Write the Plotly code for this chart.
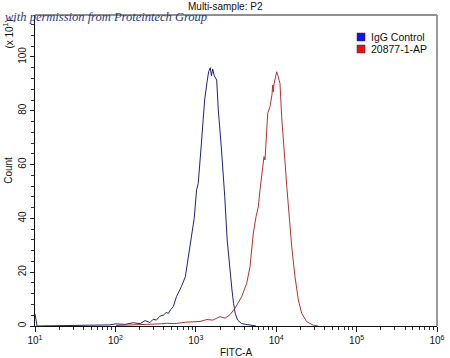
import plotly.graph_objects as go

# FITC-A intensity values and counts (in units of x10^1)
igg_fitc = [10, 10.6, 48, 65, 85, 100, 132, 166, 204, 234, 269, 295, 324, 355, 398, 427, 457, 490,
            525, 575, 617, 661, 741, 813, 891, 955, 1023, 1072, 1175, 1288, 1380, 1445, 1514,
            1567, 1622, 1698, 1820, 1905, 2089, 2239, 2291, 2455, 2692, 2818, 2951, 3090, 3311,
            3715, 4169, 5012, 5623]
igg_count = [4.5, 0, 0.3, 0.5, 0.4, 0.8, 0.6, 1.2, 0.9, 2.0, 1.3, 2.5, 2.2, 3.6, 4.1, 5.0, 4.7, 6.2,
             7.2, 10.9, 12.5, 14.6, 18.3, 25.8, 33, 40, 50.6, 53, 68, 84, 90.8, 94.5, 96,
             93, 95.5, 93, 91.4, 80.3, 65.4, 53, 48, 32, 18.3, 13.4, 8.4, 4.7, 2.2,
             0.9, 0.6, 0.3, 0]

ab_fitc = [102, 151, 234, 359, 437, 549, 741, 923, 1127, 1377, 1636, 2000, 2307, 2661, 3073, 3724,
           4297, 4722, 5190, 5610, 5989, 6291, 6659, 6918, 7052, 7258, 7467, 7838, 8369, 8865,
           9045, 9204, 9391, 9798, 10145, 10520, 11143, 11695, 12497, 13618, 15590, 17137,
           18843, 20760, 23947, 28901, 33113]
ab_count = [0.2, 0.3, 0.5, 0.8, 1.0, 0.9, 1.4, 1.6, 1.7, 2.4, 2.2, 3.5, 2.9, 4.2, 6.6, 10.9,
            15.9, 22, 34.5, 40.6, 44.3, 50.6, 56, 60.5, 63, 61.7, 68, 79, 81.5, 86,
            89.6, 87, 90, 93, 94.5, 93, 90.2, 77.8, 65.4, 51, 29.5, 18.3,
            9.7, 4.7, 1.6, 0.3, 0]

series_names = ["IgG Control", "20877-1-AP"]
line_colors = ["#22227a", "#b03434"]
legend_colors = ["#1414e6", "#e61414"]

x_tickvals = [10, 100, 1000, 10000, 100000, 1000000]
x_ticktext = ["10<sup>1</sup>", "10<sup>2</sup>", "10<sup>3</sup>", "10<sup>4</sup>",
              "10<sup>5</sup>", "10<sup>6</sup>"]
x_minor = [m * 10 ** e for e in range(1, 6) for m in range(2, 10)]
y_tickvals = [0, 20, 40, 60, 80, 100]
y_minor = list(range(0, 116, 4))

fig = go.Figure()
fig.add_trace(go.Scatter(x=igg_fitc, y=igg_count, mode="lines", name=series_names[0],
                         line=dict(color=line_colors[0], width=1), showlegend=False))
fig.add_trace(go.Scatter(x=ab_fitc, y=ab_count, mode="lines", name=series_names[1],
                         line=dict(color=line_colors[1], width=1), showlegend=False))

font = "Liberation Sans, Arial, sans-serif"

# legend drawn as swatches + labels in paper coordinates
shapes = [
    dict(type="line", xref="paper", yref="paper", x0=0, x1=1, y0=1, y1=1,
         line=dict(color="#222", width=1)),
    dict(type="line", xref="paper", yref="paper", x0=1, x1=1, y0=0, y1=1,
         line=dict(color="#999", width=2)),
]
annotations = [
    dict(text="Multi-sample: P2", xref="paper", yref="paper", x=0.475, y=1.0,
         xanchor="center", yanchor="bottom", yshift=1, showarrow=False,
         font=dict(size=10, family=font)),
    dict(text="(x 10<sup>1</sup>)", xref="paper", yref="paper", x=0, y=0.99,
         xanchor="center", yanchor="top", xshift=-27, textangle=-90, showarrow=False,
         font=dict(size=10, family=font)),
    dict(text="with permission from Proteintech Group", xref="paper", yref="paper",
         x=0, y=1.0, xanchor="left", yanchor="middle", xshift=-32, yshift=-2,
         showarrow=False,
         font=dict(size=12.5, family="Liberation Serif, serif", color="#2b3b78",
                   style="italic")),
]
plot_w, plot_h = 402, 311
for i, (name, c) in enumerate(zip(series_names, legend_colors)):
    top_px = 33 + i * 12 - 15  # from top of plot area
    x0 = (357 - 35) / plot_w
    x1 = (365 - 35) / plot_w
    y1 = 1 - top_px / plot_h
    y0 = 1 - (top_px + 8) / plot_h
    shapes.append(dict(type="rect", xref="paper", yref="paper", x0=x0, x1=x1, y0=y0, y1=y1,
                       fillcolor=c, line=dict(color="#333", width=0.5)))
    annotations.append(dict(text=name, xref="paper", yref="paper", x=(369 - 35) / plot_w,
                            y=(y0 + y1) / 2, xanchor="left", yanchor="middle",
                            showarrow=False, font=dict(size=10.5, family=font)))

fig.update_layout(
    width=450, height=358,
    margin=dict(l=35, r=13, t=15, b=32, autoexpand=False),
    paper_bgcolor="white", plot_bgcolor="white",
    font=dict(family=font, size=10, color="#111111"),
    showlegend=False,
    xaxis=dict(type="log", range=[1, 6], tickmode="array", tickvals=x_tickvals,
               ticktext=x_ticktext, ticks="outside", ticklen=5, tickcolor="#222",
               showline=True, linecolor="#111", linewidth=1, showgrid=False, zeroline=False,
               automargin=False,
               minor=dict(tickmode="array", tickvals=x_minor, ticks="outside", ticklen=3,
                          tickcolor="#333", showgrid=False),
               title=dict(text="FITC-A", standoff=4, font=dict(size=10)),
               tickfont=dict(size=10)),
    yaxis=dict(range=[0, 115.6], tickmode="array", tickvals=y_tickvals, ticks="outside",
               ticklen=4, tickcolor="#222", tickangle=-90, automargin=False,
               showline=True, linecolor="#111", linewidth=1, showgrid=False, zeroline=False,
               minor=dict(tickmode="array", tickvals=y_minor, ticks="outside", ticklen=3,
                          tickcolor="#333", showgrid=False),
               title=dict(text="Count", standoff=2, font=dict(size=10)),
               tickfont=dict(size=10)),
    shapes=shapes,
    annotations=annotations,
)

fig.write_html("out.html", config={"displayModeBar": False},
               post_script="document.body.style.margin='0';document.body.style.overflow='hidden';")
